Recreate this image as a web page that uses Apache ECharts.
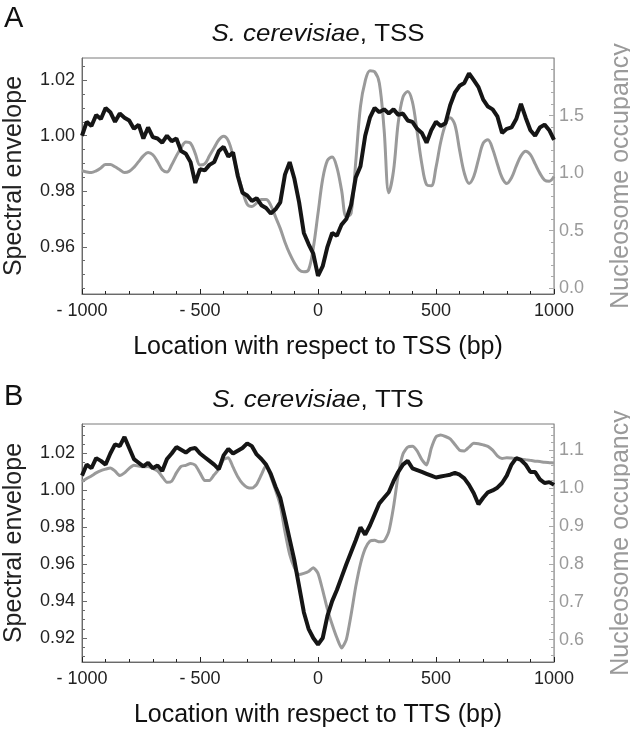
<!DOCTYPE html>
<html>
<head>
<meta charset="utf-8">
<script src="https://cdn.jsdelivr.net/npm/echarts@6/dist/echarts.min.js"></script>
<style>
html,body{margin:0;padding:0;background:#fff;}
#chart{width:630px;height:730px;}
</style>
</head>
<body>
<div id="chart"></div>
<script>
// ---- data ----
const positions = [-1000,-980,-960,-940,-920,-900,-880,-860,-840,-820,-800,-780,-760,-740,-720,-700,-680,-660,-640,-620,-600,-580,-560,-540,-520,-500,-480,-460,-440,-420,-400,-380,-360,-340,-320,-300,-280,-260,-240,-220,-200,-180,-160,-140,-120,-100,-80,-60,-40,-20,0,20,40,60,80,100,120,140,160,180,200,220,240,260,280,300,320,340,360,380,400,420,440,460,480,500,520,540,560,580,600,620,640,660,680,700,720,740,760,780,800,820,840,860,880,900,920,940,960,980,1000];

const tssEnvelope = [1.0000,1.0050,1.0035,1.0075,1.0060,1.0100,1.0085,1.0050,1.0080,1.0065,1.0055,1.0025,1.0040,0.9990,1.0030,0.9995,0.9990,0.9975,1.0000,0.9980,0.9990,0.9945,0.9935,0.9905,0.9830,0.9880,0.9875,0.9895,0.9905,0.9945,0.9960,0.9925,0.9940,0.9855,0.9795,0.9785,0.9765,0.9775,0.9750,0.9740,0.9720,0.9735,0.9760,0.9860,0.9905,0.9845,0.9760,0.9650,0.9610,0.9575,0.9495,0.9530,0.9600,0.9650,0.9640,0.9680,0.9700,0.9750,0.9850,0.9890,1.0000,1.0065,1.0100,1.0085,1.0095,1.0080,1.0095,1.0075,1.0080,1.0055,1.0050,1.0025,1.0010,0.9975,1.0020,1.0050,1.0035,1.0045,1.0110,1.0155,1.0180,1.0190,1.0225,1.0200,1.0175,1.0130,1.0105,1.0095,1.0070,1.0010,1.0025,1.0030,1.0060,1.0115,1.0065,1.0020,1.0000,1.0030,1.0040,1.0020,0.9985];

const tssOccupancy = [1.02,1.01,1.005,1.02,1.045,1.075,1.075,1.055,1.03,1.005,1.015,1.05,1.10,1.15,1.18,1.16,1.10,1.03,1.01,1.07,1.15,1.22,1.27,1.26,1.17,1.07,1.08,1.15,1.22,1.29,1.32,1.28,1.15,1.00,0.85,0.73,0.71,0.74,0.77,0.77,0.72,0.62,0.52,0.40,0.30,0.22,0.16,0.143,0.16,0.35,0.65,0.95,1.11,1.14,1.05,0.85,0.62,0.65,1.10,1.58,1.80,1.89,1.88,1.78,1.38,0.83,1.02,1.44,1.66,1.71,1.62,1.36,1.08,0.90,0.89,1.05,1.27,1.42,1.48,1.42,1.20,1.00,0.91,0.97,1.12,1.26,1.29,1.21,1.08,0.96,0.91,0.96,1.06,1.15,1.19,1.16,1.08,1.00,0.94,0.93,0.97];

const ttsEnvelope = [1.0080,1.0140,1.0120,1.0175,1.0160,1.0140,1.0200,1.0250,1.0240,1.0290,1.0230,1.0170,1.0150,1.0130,1.0150,1.0120,1.0135,1.0105,1.0170,1.0200,1.0235,1.0220,1.0205,1.0225,1.0230,1.0200,1.0180,1.0160,1.0140,1.0115,1.0190,1.0225,1.0200,1.0215,1.0230,1.0255,1.0240,1.0195,1.0170,1.0140,1.0090,1.0020,0.9960,0.9850,0.9735,0.9620,0.9480,0.9340,0.9250,0.9200,0.9165,0.9200,0.9320,0.9400,0.9460,0.9530,0.9600,0.9665,0.9730,0.9800,0.9760,0.9810,0.9870,0.9930,0.9960,0.9990,1.0050,1.0100,1.0140,1.0160,1.0120,1.0110,1.0100,1.0090,1.0080,1.0070,1.0075,1.0080,1.0085,1.0095,1.0085,1.0065,1.0030,0.9985,0.9925,0.9960,0.9990,1.0000,1.0015,1.0040,1.0080,1.0140,1.0175,1.0165,1.0140,1.0100,1.0100,1.0060,1.0040,1.0045,1.0030];

const ttsOccupancy = [1.017,1.025,1.032,1.040,1.046,1.050,1.053,1.045,1.033,1.040,1.052,1.060,1.058,1.056,1.057,1.052,1.045,1.030,1.015,1.018,1.040,1.057,1.060,1.065,1.060,1.040,1.020,1.020,1.035,1.050,1.075,1.080,1.055,1.030,1.012,1.002,1.000,1.010,1.035,1.060,1.030,0.995,0.955,0.885,0.825,0.790,0.772,0.775,0.780,0.790,0.775,0.730,0.680,0.640,0.605,0.578,0.600,0.665,0.740,0.800,0.840,0.860,0.862,0.858,0.860,0.885,0.950,1.035,1.090,1.108,1.110,1.098,1.075,1.061,1.105,1.135,1.140,1.136,1.130,1.115,1.100,1.098,1.108,1.118,1.117,1.114,1.110,1.100,1.085,1.078,1.080,1.079,1.078,1.076,1.075,1.073,1.071,1.070,1.068,1.067,1.066];

const xTicks = [-1000,-500,0,500,1000];
const tssEnvTicks = [0.96,0.98,1.00,1.02];
const tssEnvMinor = [0.945,0.950,0.955,0.965,0.970,0.975,0.985,0.990,0.995,1.005,1.010,1.015,1.025];
const tssOccTicks = [0.0,0.5,1.0,1.5];
const tssOccMinor = [0.1,0.2,0.3,0.4,0.6,0.7,0.8,0.9,1.1,1.2,1.3,1.4,1.6,1.7,1.8,1.9];
const ttsEnvTicks = [0.92,0.94,0.96,0.98,1.00,1.02];
const ttsEnvMinor = [0.910,0.915,0.925,0.930,0.935,0.945,0.950,0.955,0.965,0.970,0.975,0.985,0.990,0.995,1.005,1.010,1.015,1.025,1.030,1.035];
const ttsOccTicks = [0.6,0.7,0.8,0.9,1.0,1.1];
const ttsOccMinor = [0.56,0.58,0.62,0.64,0.66,0.68,0.72,0.74,0.76,0.78,0.82,0.84,0.86,0.88,0.92,0.94,0.96,0.98,1.02,1.04,1.06,1.08,1.12,1.14,1.16];

// ---- helpers ----
const FONT = 'Liberation Sans';
const BLACK = '#151515';
const GRAY = '#9a9a9a';
const AXIS = '#6a6a6a';
const pairs = (ys) => positions.map((x, i) => [x, ys[i]]);
const xFmt = v => v < 0 ? '- ' + (-v) : String(v);

function xAxisFor(gi, name) {
  return {
    type: 'value', gridIndex: gi, min: -1000, max: 1000, interval: 500,
    name: name, nameLocation: 'middle', nameGap: 41,
    nameTextStyle: {fontFamily: FONT, fontSize: 25, color: '#111'},
    axisLine: {show: true, onZero: false, lineStyle: {color: AXIS, width: 1}},
    axisTick: {show: true, inside: true, length: 5, customValues: xTicks, lineStyle: {color: '#222'}},
    minorTick: {show: true, splitNumber: 5, length: 3, lineStyle: {color: '#222'}},
    axisLabel: {fontFamily: FONT, fontSize: 18, color: '#222', margin: 8, customValues: xTicks, formatter: xFmt},
    splitLine: {show: false}, minorSplitLine: {show: false}
  };
}
function yMain(gi, min, max, ticks, pos, name, color, lineColor, dec, nameGap) {
  return {
    type: 'value', gridIndex: gi, min: min, max: max, position: pos,
    name: name, nameLocation: 'middle', nameGap: nameGap, nameRotate: 90,
    nameTextStyle: {fontFamily: FONT, fontSize: 25, color: color},
    axisLine: {show: true, onZero: false, lineStyle: {color: lineColor, width: 1}},
    axisTick: {show: true, inside: true, length: 5, customValues: ticks, lineStyle: {color: lineColor}},
    axisLabel: {fontFamily: FONT, fontSize: 18, color: color, margin: pos === 'left' ? 7 : 5,
      customValues: ticks, formatter: v => v.toFixed(dec)},
    splitLine: {show: false}
  };
}
function yMinor(gi, min, max, minors, pos, lineColor) {
  return {
    type: 'value', gridIndex: gi, min: min, max: max, position: pos,
    axisLine: {show: false, onZero: false},
    axisTick: {show: true, inside: true, length: 3, customValues: minors, lineStyle: {color: lineColor}},
    axisLabel: {show: false, customValues: minors},
    splitLine: {show: false}
  };
}
function titleText(x, y, label) {
  return {
    type: 'text', x: x, y: y, scaleX: 1.08, originX: 0, originY: 0,
    style: {
      text: '{i|S. cerevisiae}, ' + label,
      fontFamily: FONT, fontSize: 24, fill: '#111',
      align: 'center', verticalAlign: 'middle',
      rich: {i: {fontStyle: 'italic', fontFamily: FONT, fontSize: 24, fill: '#111'}}
    }
  };
}
function letter(x, y, t) {
  return {type: 'text', x: x, y: y, style: {text: t, fontFamily: FONT, fontSize: 29, fill: '#111', align: 'left', verticalAlign: 'middle'}};
}

const chart = echarts.init(document.getElementById('chart'), null, {renderer: 'canvas'});
chart.setOption({
  animation: false,
  backgroundColor: '#fff',
  grid: [
    {left: 82, top: 58, width: 472, height: 236, show: true, borderColor: '#7a7a7a', borderWidth: 1,
      backgroundColor: 'transparent', containLabel: false, outerBoundsMode: 'none'},
    {left: 82, top: 424, width: 472, height: 238, show: true, borderColor: '#7a7a7a', borderWidth: 1,
      backgroundColor: 'transparent', containLabel: false, outerBoundsMode: 'none'}
  ],
  xAxis: [
    xAxisFor(0, 'Location with respect to TSS (bp)'),
    xAxisFor(1, 'Location with respect to TTS (bp)')
  ],
  yAxis: [
    yMain(0, 0.943, 1.028, tssEnvTicks, 'left', 'Spectral envelope', '#222', AXIS, 2, 55),
    yMinor(0, 0.943, 1.028, tssEnvMinor, 'left', AXIS),
    yMain(0, -0.05, 2.0, tssOccTicks, 'right', 'Nucleosome occupancy', GRAY, '#aaaaaa', 1, 55),
    yMinor(0, -0.05, 2.0, tssOccMinor, 'right', '#aaaaaa'),
    yMain(1, 0.907, 1.036, ttsEnvTicks, 'left', 'Spectral envelope', '#222', AXIS, 2, 55),
    yMinor(1, 0.907, 1.036, ttsEnvMinor, 'left', AXIS),
    yMain(1, 0.541, 1.169, ttsOccTicks, 'right', 'Nucleosome occupancy', GRAY, '#aaaaaa', 1, 55),
    yMinor(1, 0.541, 1.169, ttsOccMinor, 'right', '#aaaaaa')
  ],
  graphic: [
    letter(4, 19, 'A'),
    letter(4, 397, 'B'),
    titleText(318, 34, 'TSS'),
    titleText(318, 400, 'TTS')
  ],
  series: [
    {type: 'line', xAxisIndex: 0, yAxisIndex: 2, data: pairs(tssOccupancy), showSymbol: false, smooth: 0.35,
      lineStyle: {color: GRAY, width: 3}, z: 2},
    {type: 'line', xAxisIndex: 0, yAxisIndex: 0, data: pairs(tssEnvelope), showSymbol: false,
      lineStyle: {color: BLACK, width: 4}, z: 3},
    {type: 'line', xAxisIndex: 1, yAxisIndex: 6, data: pairs(ttsOccupancy), showSymbol: false, smooth: 0.2,
      lineStyle: {color: GRAY, width: 3}, z: 2},
    {type: 'line', xAxisIndex: 1, yAxisIndex: 4, data: pairs(ttsEnvelope), showSymbol: false,
      lineStyle: {color: BLACK, width: 4}, z: 3}
  ]
});
</script>
</body>
</html>
